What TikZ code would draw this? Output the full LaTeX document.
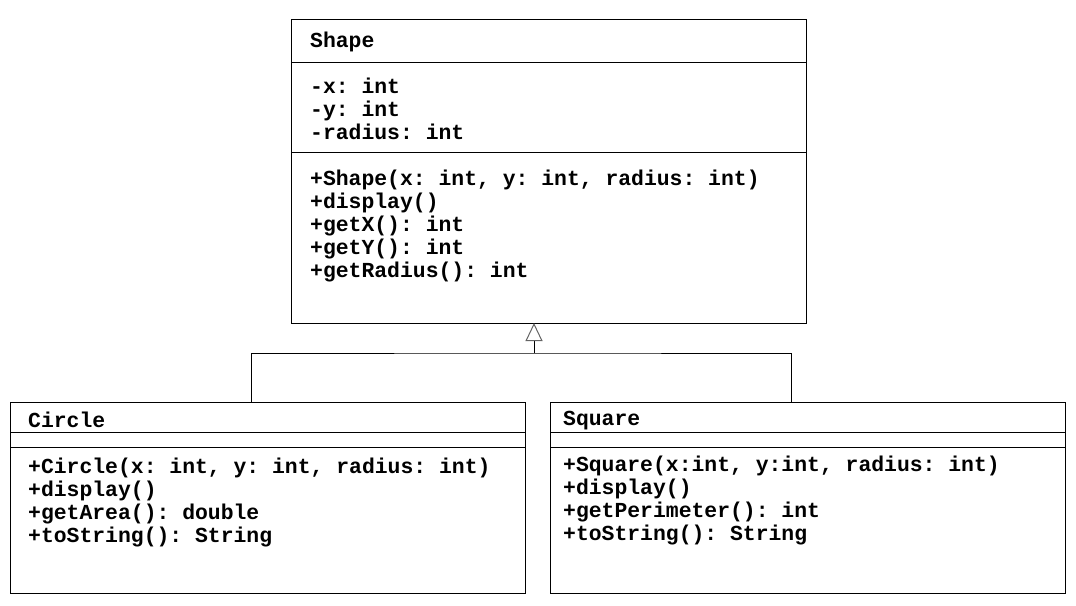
\documentclass[tikz,border=0pt]{standalone}
\usepackage{fontspec}
\setmonofont{Liberation Mono}
\usetikzlibrary{arrows.meta}
\definecolor{tipgray}{RGB}{100,100,100}
\begin{document}
\begin{tikzpicture}[x=1pt,y=-1pt,
  classbox/.style={draw, line width=1pt, fill=white, inner sep=0pt, anchor=north west},
  member/.style={anchor=base west, inner sep=0pt, font=\ttfamily\bfseries\fontsize{21.4}{23}\selectfont},
  rule/.style={line width=1pt},
  link/.style={line width=1pt},
  inherit/.style={line width=1pt, -{Triangle[open, length=18pt, width=17pt, color=tipgray, line width=1pt]}},
]
\useasboundingbox (0,0) rectangle (1076,605);

% Shape class
\node[classbox, minimum width=515pt, minimum height=304pt] (shape) at (291,19) {};
\draw[rule] (shape.west |- 0,62) -- (shape.east |- 0,62);
\draw[rule] (shape.west |- 0,152) -- (shape.east |- 0,152);
\node[member] (shapename) at (310,47) {Shape};
\node[member] (sa1) at (310,93) {-x: int};
\node[member] (sa2) at (310,116) {-y: int};
\node[member] (sa3) at (310,139) {-radius: int};
\node[member] (sm1) at (310,185) {+Shape(x: int, y: int, radius: int)};
\node[member] (sm2) at (310,208) {+display()};
\node[member] (sm3) at (310,231) {+getX(): int};
\node[member] (sm4) at (310,254) {+getY(): int};
\node[member] (sm5) at (310,277) {+getRadius(): int};

% Circle class
\node[classbox, minimum width=515pt, minimum height=191pt] (circle) at (10,402) {};
\draw[rule] (circle.west |- 0,432) -- (circle.east |- 0,432);
\draw[rule] (circle.west |- 0,447) -- (circle.east |- 0,447);
\node[member] (circlename) at (28,427) {Circle};
\node[member] (cm1) at (28,473) {+Circle(x: int, y: int, radius: int)};
\node[member] (cm2) at (28,496) {+display()};
\node[member] (cm3) at (28,519) {+getArea(): double};
\node[member] (cm4) at (28,542) {+toString(): String};

% Square class
\node[classbox, minimum width=515pt, minimum height=191pt] (square) at (550,402) {};
\draw[rule] (square.west |- 0,432) -- (square.east |- 0,432);
\draw[rule] (square.west |- 0,447) -- (square.east |- 0,447);
\node[member] (squarename) at (563,425) {Square};
\node[member] (qm1) at (563,471) {+Square(x:int, y:int, radius: int)};
\node[member] (qm2) at (563,494) {+display()};
\node[member] (qm3) at (563,517) {+getPerimeter(): int};
\node[member] (qm4) at (563,540) {+toString(): String};

% Generalization: Circle and Square extend Shape
\coordinate (ctop) at (251,402);
\coordinate (qtop) at (791,402);
\coordinate (join) at (534,353);
\coordinate (apex) at (534,323);
\draw[link] (ctop) |- (join) -| (qtop);
\draw[inherit] (join) -- (apex);
\end{tikzpicture}
\end{document}
